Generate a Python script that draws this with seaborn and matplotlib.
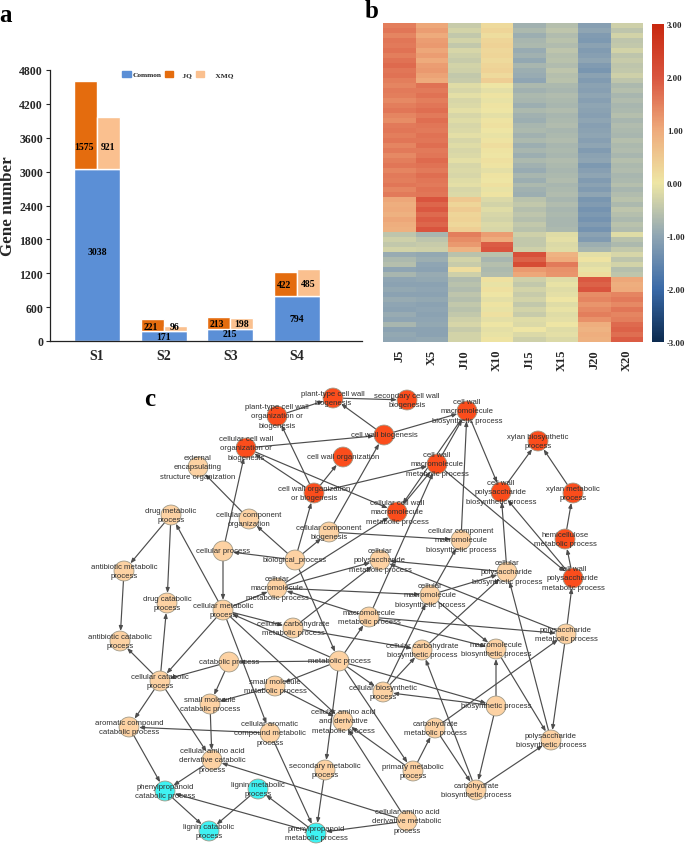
import pandas as pd
import matplotlib
matplotlib.use('Agg')
import matplotlib.pyplot as plt
import seaborn as sns
from matplotlib.colors import LinearSegmentedColormap
from matplotlib.patches import Patch

# panel a
stages = ['S1', 'S2', 'S3', 'S4']
common = [3038, 171, 215, 794]
jq = [1575, 221, 213, 422]
xmq = [921, 96, 198, 485]
common_label_y = [1590, 85, 125, 395]
jq_label_y = [3440, 265, 315, 995]
xmq_label_y = [3440, 255, 310, 1010]
gene_ticks = [0, 600, 1200, 1800, 2400, 3000, 3600, 4200, 4800]

# panel b, one list per sample, top row to bottom row
samples = ['J5', 'X5', 'J10', 'X10', 'J15', 'X15', 'J20', 'X20']
j5 = [1.5, 1.6, 1.45, 1.6, 1.55, 1.65, 1.5, 1.65, 1.75, 1.6, 1.65, 1.5,
      1.45, 1.55, 1.5, 1.4, 1.5, 1.6, 1.45, 1.35, 1.55, 1.6, 1.5, 1.6, 1.45, 1.55, 1.4, 1.5, 1.6, 1.45, 1.55, 1.5, 1.6, 1.45, 1.55,
      1.05, 0.95, 1.0, 0.9, 1.05, 0.95, 0.9,
      -0.5, -0.35, -0.45, -0.3,
      -0.9, -0.7, -0.6, -1.0, -0.75,
      -1.0, -1.05, -0.95, -1.05, -0.9, -1.0, -1.05, -0.9, -1.0, -0.75, -1.05, -0.95, -1.0]
x5 = [1.05, 1.15, 1.0, 1.15, 1.2, 1.05, 1.15, 1.0, 1.15, 1.2, 1.1, 1.0,
      1.65, 1.55, 1.65, 1.5, 1.6, 1.7, 1.55, 1.7, 1.6, 1.55, 1.65, 1.6, 1.7, 1.55, 1.6, 1.75, 1.65, 1.55, 1.7, 1.6, 1.55, 1.65, 1.6,
      2.0, 1.8, 1.95, 1.75, 1.9, 1.8, 2.0,
      -0.75, -0.5, -0.4, -0.35,
      -0.95, -0.85, -1.0, -1.05, -0.9,
      -0.95, -1.05, -1.0, -1.05, -0.95, -1.05, -1.0, -1.05, -1.0, -0.95, -1.05, -1.05, -0.95]
j10 = [-0.4, -0.3, -0.45, -0.3, -0.45, -0.25, -0.35, -0.4, -0.3, -0.35, -0.45, -0.4,
       -0.15, -0.25, -0.1, -0.25, -0.2, -0.1, -0.25, -0.15, -0.25, -0.2, -0.1, -0.25, -0.15, -0.25, -0.2, -0.1, -0.25, -0.2, -0.25, -0.15, -0.1, -0.25, -0.2,
       0.5, 0.3, 0.45, 0.3, 0.35, 0.25, 0.4,
       1.5, 1.35, 1.2, 0.85,
       -0.55, -0.3, -0.4, 0.15, -0.35,
       -0.65, -0.55, -0.65, -0.5, -0.6, -0.45, -0.55, -0.45, -0.35, -0.25, -0.4, -0.3, -0.3]
x10 = [0.2, 0.3, 0.15, 0.3, 0.35, 0.25, 0.3, 0.2, 0.3, 0.35, 0.2, 0.4,
       0.0, -0.1, 0.05, -0.05, 0.05, 0.0, -0.1, 0.05, 0.1, 0.0, -0.05, 0.05, 0.15, 0.05, 0.0, 0.1, 0.05, -0.1, 0.05, 0.0, 0.1, -0.05, 0.05,
       -0.2, -0.3, -0.15, -0.25, -0.3, -0.2, -0.25,
       1.15, 1.0, 1.9, 2.0,
       -0.55, -0.75, -0.6, -0.7, -0.65,
       0.1, -0.05, 0.1, 0.0, -0.1, 0.05, -0.05, 0.1, -0.1, 0.0, -0.1, -0.05, 0.05]
j15 = [-0.8, -0.7, -0.85, -0.75, -0.7, -0.9, -0.8, -0.95, -0.75, -0.85, -0.9, -1.0,
       -0.7, -0.8, -0.7, -0.75, -0.85, -0.7, -0.8, -0.85, -0.75, -0.7, -0.8, -0.7, -0.85, -0.75, -0.85, -0.7, -0.8, -0.9, -0.75, -0.85, -0.7, -0.8, -0.85,
       -0.55, -0.45, -0.6, -0.5, -0.6, -0.45, -0.55,
       -0.35, -0.45, -0.45, -0.35,
       2.1, 1.85, 2.2, 1.2, 1.05,
       -0.35, -0.45, -0.3, -0.4, -0.3, -0.45, -0.3, -0.4, -0.15, -0.2, 0.0, -0.2, -0.35]
x15 = [-0.6, -0.5, -0.65, -0.55, -0.65, -0.5, -0.6, -0.55, -0.65, -0.5, -0.6, -0.55,
       -0.7, -0.75, -0.65, -0.7, -0.75, -0.65, -0.75, -0.7, -0.65, -0.75, -0.7, -0.65, -0.75, -0.7, -0.75, -0.65, -0.7, -0.75, -0.7, -0.65, -0.75, -0.7, -0.65,
       -0.75, -0.65, -0.75, -0.7, -0.75, -0.75, -0.7,
       -0.15, -0.1, -0.2, -0.15,
       0.85, 1.0, 1.55, 1.3, 1.25,
       -0.15, -0.05, -0.15, -0.1, 0.0, -0.15, -0.05, -0.15, -0.1, 0.0, -0.15, -0.1, -0.2]
j20 = [-1.1, -1.0, -1.15, -1.2, -1.05, -1.15, -1.1, -1.0, -1.15, -1.25, -1.05, -1.15,
       -1.05, -1.1, -1.0, -1.1, -1.0, -1.05, -1.1, -1.0, -1.1, -1.05, -1.0, -1.1, -1.0, -1.15, -1.05, -1.0, -1.2, -1.1, -1.0, -1.15, -1.05, -1.15, -1.0,
       -1.25, -1.15, -1.3, -1.2, -1.3, -1.15, -1.3,
       -1.05, -1.15, -0.85, -0.75,
       -0.1, 0.05, -0.15, -0.05, 0.15,
       1.95, 1.85, 2.0, 1.35, 1.45, 1.25, 1.4, 1.5, 1.3, 0.95, 0.85, 0.95, 0.9]
x20 = [-0.35, -0.5, -0.3, -0.5, -0.45, -0.3, -0.5, -0.4, -0.5, -0.45, -0.35, -0.5,
       -0.7, -0.6, -0.75, -0.65, -0.75, -0.7, -0.6, -0.75, -0.65, -0.7, -0.75, -0.6, -0.7, -0.65, -0.75, -0.6, -0.7, -0.65, -0.75, -0.7, -0.6, -0.75, -0.65,
       -0.55, -0.7, -0.5, -0.6, -0.7, -0.55, -0.65,
       -0.15, -0.55, -0.7, -0.45,
       -0.25, -0.5, -0.3, -0.6, -0.5,
       1.05, 0.95, 1.0, 1.45, 1.55, 1.4, 1.6, 1.45, 1.5, 1.75, 1.85, 1.7, 1.9]

# panel c, keys and labels in the same order as the positions
node_keys = ['ptb', 'scb', 'pto', 'cwmb', 'cwb', 'ccwo', 'xbp', 'cwo', 'cwmm', 'cwob', 'cwpb', 'xmp', 'ccwmm', 'hmp', 'cwpm',
             'eeso', 'dmp', 'cco', 'ccb', 'ccmb', 'cp', 'bp', 'cpm', 'cpb', 'amp', 'cmm', 'cmb', 'dcp', 'cm', 'mm',
             'pm', 'ccarm', 'acp', 'ccarb', 'mb', 'cat', 'met', 'ccat', 'smm', 'cb', 'smc', 'bio', 'caa', 'chm', 'arc',
             'cam', 'pb', 'cadc', 'prim', 'sec', 'chb', 'cadm', 'ppc', 'lm', 'lc', 'ppm']
node_labels = ['plant-type cell wall\nbiogenesis', 'secondary cell wall\nbiogenesis',
               'plant-type cell wall\norganization or\nbiogenesis', 'cell wall\nmacromolecule\nbiosynthetic process',
               'cell wall biogenesis', 'cellular cell wall\norganization or\nbiogenesis',
               'xylan biosynthetic\nprocess', 'cell wall organization',
               'cell wall\nmacromolecule\nmetabolic process', 'cell wall organization\nor biogenesis',
               'cell wall\npolysaccharide\nbiosynthetic process', 'xylan metabolic\nprocess',
               'cellular cell wall\nmacromolecule\nmetabolic process', 'hemicellulose\nmetabolic process',
               'cell wall\npolysaccharide\nmetabolic process',
               'external\nencapsulating\nstructure organization', 'drug metabolic\nprocess',
               'cellular component\norganization', 'cellular component\nbiogenesis',
               'cellular component\nmacromolecule\nbiosynthetic process', 'cellular process', 'biological_process',
               'cellular\npolysaccharide\nmetabolic process', 'cellular\npolysaccharide\nbiosynthetic process',
               'antibiotic metabolic\nprocess', 'cellular\nmacromolecule\nmetabolic process',
               'cellular\nmacromolecule\nbiosynthetic process', 'drug catabolic\nprocess',
               'cellular metabolic\nprocess', 'macromolecule\nmetabolic process',
               'polysaccharide\nmetabolic process', 'cellular carbohydrate\nmetabolic process',
               'antibiotic catabolic\nprocess', 'cellular carbohydrate\nbiosynthetic process',
               'macromolecule\nbiosynthetic process', 'catabolic process', 'metabolic process',
               'cellular catabolic\nprocess', 'small molecule\nmetabolic process', 'cellular biosynthetic\nprocess',
               'small molecule\ncatabolic process', 'biosynthetic process',
               'cellular amino acid\nand derivative\nmetabolic process', 'carbohydrate\nmetabolic process',
               'aromatic compound\ncatabolic process', 'cellular aromatic\ncompound metabolic\nprocess',
               'polysaccharide\nbiosynthetic process', 'cellular amino acid\nderivative catabolic\nprocess',
               'primary metabolic\nprocess', 'secondary metabolic\nprocess', 'carbohydrate\nbiosynthetic process',
               'cellular amino acid\nderivative metabolic\nprocess', 'phenylpropanoid\ncatabolic process',
               'lignin metabolic\nprocess', 'lignin catabolic\nprocess', 'phenylpropanoid\nmetabolic process']
node_x = [333, 407, 277, 467, 384, 246, 538, 343, 437, 314, 501, 573, 397, 565, 573,
          198, 171, 249, 329, 461, 223, 295, 380, 507, 124, 277, 430, 167, 223, 369,
          566, 293, 120, 422, 496, 229, 339, 160, 275, 383, 210, 496, 343, 435, 129,
          270, 551, 212, 413, 325, 476, 407, 165, 258, 209, 316]
node_y = [399, 401, 417, 412, 436, 449, 442, 458, 465, 494, 493, 494, 513, 540, 579,
          468, 516, 520, 533, 541, 552, 561, 561, 573, 572, 589, 596, 604, 611, 618,
          635, 629, 642, 651, 650, 663, 662, 682, 687, 693, 705, 707, 722, 729, 728,
          734, 741, 761, 772, 771, 791, 822, 792, 790, 832, 834]
node_group = ['wall'] * 15 + ['general'] * 37 + ['lignin'] * 4
edge_from = ['pto', 'cwob', 'ptb', 'cwb', 'ccb', 'ccwo', 'cwb', 'cwob', 'cwob', 'ccwo', 'cwob', 'cwmm', 'cwmb', 'ccwmm',
             'cwmb', 'cwpb', 'xmp', 'hmp', 'cwpm', 'cwpm', 'cwmm', 'cpb', 'ccmb', 'ccb', 'cmb', 'cmb', 'cmm', 'cpb',
             'cmm', 'cmm', 'mm', 'cmb', 'cb', 'cb', 'met', 'chm', 'pm', 'mm', 'pm', 'pm', 'pb', 'bio', 'mb', 'bio',
             'met', 'bio', 'chb', 'chm', 'chb', 'prim', 'met', 'prim', 'cadm', 'cadm', 'cadm', 'met', 'cat', 'cat',
             'smm', 'smm', 'cm', 'cm', 'cm', 'met', 'cm', 'met', 'ccarm', 'cm', 'cp', 'cp', 'bp', 'bp', 'cco', 'bp',
             'bp', 'bp', 'cm', 'dmp', 'dmp', 'amp', 'ccat', 'ccat', 'ccat', 'ccat', 'smc', 'cam', 'arc', 'cadc', 'ppc',
             'ppm', 'ppm', 'lm', 'cam', 'sec', 'met', 'mm', 'ccarm', 'met', 'ccarb', 'mm']
edge_to = ['ptb', 'pto', 'scb', 'ptb', 'cwb', 'cwb', 'cwmb', 'cwo', 'ccwo', 'ccwmm', 'cwmm', 'cwmb', 'ccwmm', 'cwmm',
           'cwpb', 'xbp', 'xbp', 'xmp', 'hmp', 'cwpb', 'cwpm', 'cwpb', 'cwmb', 'ccmb', 'ccmb', 'cpb', 'cmb', 'cpm',
           'ccwmm', 'cpm', 'cwmm', 'mb', 'cmb', 'ccarb', 'cb', 'pm', 'pb', 'pm', 'cpm', 'cwpm', 'cpb', 'mb', 'pb', 'cb',
           'bio', 'chb', 'pb', 'chb', 'ccarb', 'chm', 'prim', 'caa', 'caa', 'cadc', 'ppm', 'cat', 'ccat', 'smc',
           'smc', 'caa', 'ccat', 'caa', 'cam', 'cm', 'ccarm', 'smm', 'ccarb', 'cmm', 'cm', 'ccwo', 'cp', 'cco', 'eeso', 'cwob',
           'ccb', 'met', 'dmp', 'amp', 'dcp', 'acp', 'dcp', 'acp', 'arc', 'cadc', 'cadc', 'arc', 'ppc', 'ppc', 'lc',
           'ppc', 'lm', 'lc', 'ppm', 'ppm', 'sec', 'cmm', 'cpm', 'mm', 'cpb', 'mb']

serif = 'Liberation Serif'
sans = 'Liberation Sans'
W, H = 685, 845

sns.set_style('white')
plt.rcParams['font.family'] = [serif, 'DejaVu Serif']


def box(left, top, right, bottom):
    # axes rectangle from pixel edges, origin at the top left
    return [left / W, 1 - bottom / H, (right - left) / W, (bottom - top) / H]


fig = plt.figure(figsize=(W / 100, H / 100), dpi=100, facecolor='white')

# a: stacked bars, the two cultivars split the upper half of each bar
ax = fig.add_axes(box(50, 71, 362, 342))
bars = pd.DataFrame({'stage': stages, 'common': common})
sns.barplot(data=bars, x='stage', y='common', color='#5b8fd6', saturation=1, width=0.69, ax=ax)
half = 0.345
for i in range(len(stages)):
    ax.bar(i - half / 2, jq[i], width=half, bottom=common[i], color='#e46c0e')
    ax.bar(i + half / 2, xmq[i], width=half, bottom=common[i], color='#fac08f')
    ax.text(i, common_label_y[i], str(common[i]), ha='center', va='center', fontsize=7, fontweight='bold', color='black')
    ax.text(i - half / 2 - 0.02, jq_label_y[i], str(jq[i]), ha='center', va='center', fontsize=7, fontweight='bold', color='black')
    ax.text(i + half / 2, xmq_label_y[i], str(xmq[i]), ha='center', va='center', fontsize=7, fontweight='bold', color='black')
ax.set_xlim(-0.706, 3.98)
ax.set_ylim(0, 4800)
ax.set_yticks(gene_ticks)
ax.tick_params(axis='y', length=3, width=0.8, pad=2, left=True, labelsize=8.5)
ax.tick_params(axis='x', length=0, pad=6, labelsize=10)
for lab in ax.get_xticklabels() + ax.get_yticklabels():
    lab.set_fontweight('bold')
ax.set_xlabel('')
ax.set_ylabel('Gene number', fontsize=12.2, fontweight='bold', labelpad=2)
sns.despine(ax=ax)
for side in ['left', 'bottom']:
    ax.spines[side].set_color('#222222')
    ax.spines[side].set_linewidth(0.9)
handles = [Patch(color='#5b8fd6'), Patch(color='#e46c0e'), Patch(color='#fac08f')]
ax.legend(handles, ['Common', '    JQ', '     XMQ'], ncol=3, frameon=False, loc='center',
          bbox_to_anchor=(0.41, 0.985), prop={'size': 5.3, 'weight': 'bold'}, handlelength=1.1, handleheight=1.0,
          handletextpad=0.3, columnspacing=0.45, borderpad=0)

# b: heatmap with a separate colour bar
cmap = LinearSegmentedColormap.from_list('gene_expr', [(0, '#0c2a4f'), (1 / 6, '#3a6aa8'), (2 / 6, '#8fa5b3'),
                                                       (3 / 6, '#eee6a4'), (4 / 6, '#eeab7c'), (5 / 6, '#d9553f'),
                                                       (1, '#c8280f')])
ax_heat = fig.add_axes(box(383, 24, 643, 343))
ax_cbar = fig.add_axes(box(652, 25, 664, 343))
expr = pd.DataFrame(dict(zip(samples, [j5, x5, j10, x10, j15, x15, j20, x20])))
sns.heatmap(expr, cmap=cmap, vmin=-3, vmax=3, ax=ax_heat, cbar_ax=ax_cbar, yticklabels=False,
            cbar_kws={'ticks': [-3, -2, -1, 0, 1, 2, 3], 'format': '%.2f'})
ax_heat.tick_params(axis='x', length=0, pad=5, labelsize=9, rotation=90)
for lab in ax_heat.get_xticklabels():
    lab.set_fontweight('bold')
ax_cbar.tick_params(length=0, pad=2, labelsize=6.3)
for lab in ax_cbar.get_yticklabels():
    lab.set_fontweight('bold')

# c: GO network drawn in figure pixels
ax_net = fig.add_axes([0, 0, 1, 1], facecolor='none')
pos = dict(zip(node_keys, zip(node_x, node_y)))
for a, b in zip(edge_from, edge_to):
    ax_net.annotate('', xy=pos[b], xytext=pos[a], zorder=1,
                    arrowprops=dict(arrowstyle='-|>,head_length=0.28,head_width=0.11', color='#4d4d4d', lw=0.85,
                                    shrinkA=7, shrinkB=7.2))
nodes = pd.DataFrame({'x': node_x, 'y': node_y, 'group': node_group})
sns.scatterplot(data=nodes, x='x', y='y', hue='group', s=205, linewidth=0.6, edgecolor='#a09a88',
                palette={'wall': '#fb4d1c', 'general': '#fdd2a3', 'lignin': '#3ff2f2'},
                legend=False, zorder=2, ax=ax_net)
for x, y, label in zip(node_x, node_y, node_labels):
    ax_net.text(x, y, label, ha='center', va='center', fontsize=5.6, family=[sans, 'DejaVu Sans'],
                color='#2e2e2e', linespacing=1.55, zorder=3)
ax_net.set_xlim(0, W)
ax_net.set_ylim(H, 0)
ax_net.axis('off')

# panel letters
ax_net.text(6, 15, 'a', fontsize=18, fontweight='bold', ha='center', va='center', color='black')
ax_net.text(372, 11, 'b', fontsize=18, fontweight='bold', ha='center', va='center', color='black')
ax_net.text(150, 400, 'c', fontsize=18, fontweight='bold', ha='center', va='center', color='black')

fig.savefig('out.png', dpi=100, facecolor='white')
